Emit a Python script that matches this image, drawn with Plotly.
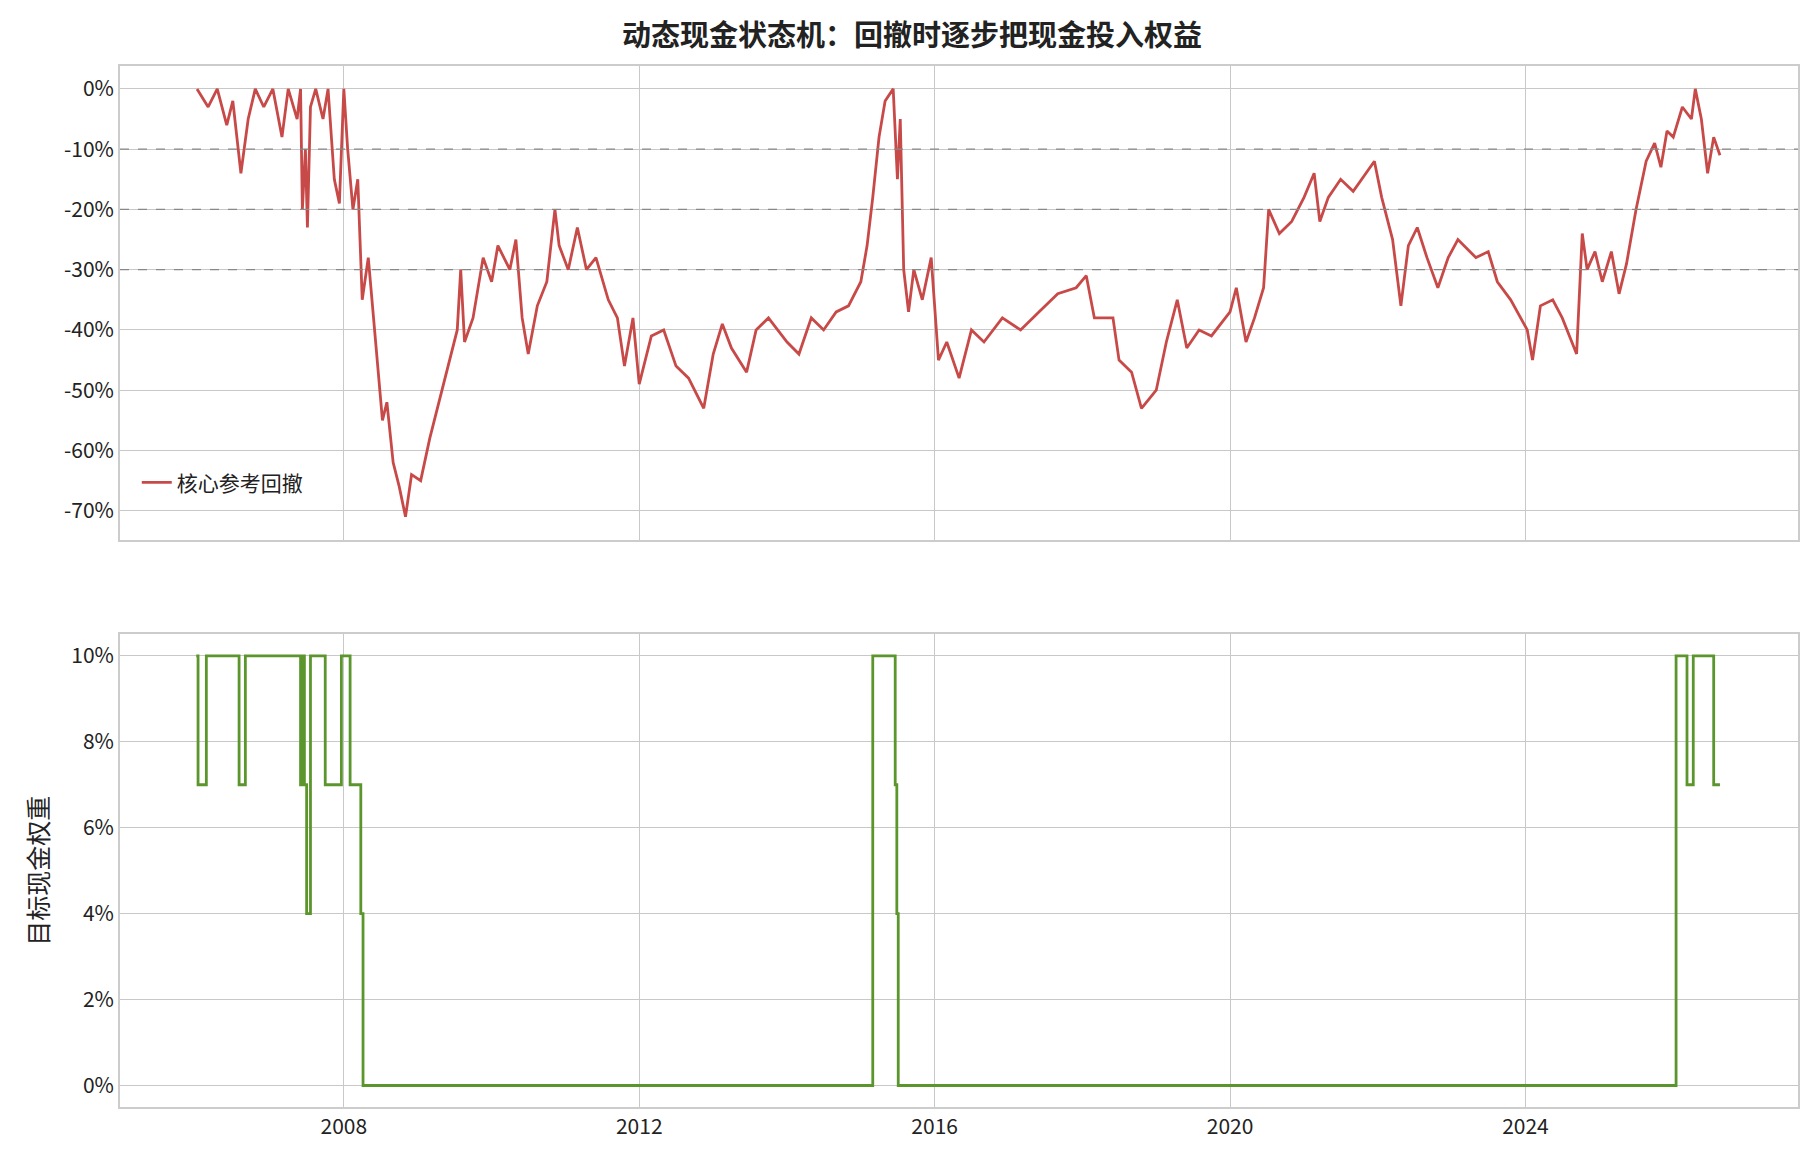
import plotly.graph_objects as go
from plotly.subplots import make_subplots

# 核心参考回撤 (%)
dd_dates = ["2006-01-05","2006-03-01","2006-04-15","2006-06-01","2006-07-01","2006-08-10","2006-09-15","2006-10-20","2006-12-01",
    "2007-01-15","2007-03-01","2007-04-01","2007-05-15","2007-06-01","2007-06-10","2007-06-25","2007-07-05","2007-07-20","2007-08-15",
    "2007-09-20","2007-10-15","2007-11-15","2007-12-10","2008-01-01","2008-01-20","2008-02-15","2008-03-10","2008-04-01","2008-05-01",
    "2008-06-01","2008-06-20","2008-07-10","2008-08-01","2008-09-01","2008-10-01","2008-11-01","2008-12-01","2009-01-15","2009-03-01",
    "2009-04-15","2009-06-01","2009-07-15","2009-08-01","2009-08-20","2009-10-01","2009-11-20","2010-01-01","2010-02-01","2010-04-01",
    "2010-05-01","2010-06-01","2010-07-01","2010-08-15","2010-10-01","2010-11-10","2010-12-01","2011-01-15","2011-03-01","2011-04-15",
    "2011-06-01","2011-08-01","2011-09-15","2011-10-20","2011-12-01","2012-01-01","2012-03-01","2012-05-01","2012-07-01","2012-09-01",
    "2012-11-15","2013-01-01","2013-02-15","2013-04-01","2013-06-15","2013-08-01","2013-10-01","2014-01-01","2014-03-01","2014-05-01",
    "2014-07-01","2014-09-01","2014-11-01","2015-01-01","2015-02-01","2015-03-01","2015-04-01","2015-05-01","2015-06-10","2015-07-01",
    "2015-07-15","2015-08-01","2015-08-25","2015-09-20","2015-11-01","2015-12-15","2016-01-20","2016-03-01","2016-05-01","2016-07-01",
    "2016-09-01","2016-12-01","2017-03-01","2017-06-01","2017-09-01","2017-12-01","2018-01-20","2018-03-01","2018-06-01","2018-07-01",
    "2018-09-01","2018-10-20","2019-01-01","2019-02-20","2019-04-15","2019-06-01","2019-08-01","2019-10-01","2020-01-01","2020-02-01",
    "2020-03-20","2020-05-01","2020-06-15","2020-07-10","2020-09-01","2020-11-01","2021-01-01","2021-02-20","2021-03-20","2021-05-01",
    "2021-07-01","2021-09-01","2021-11-01","2021-12-15","2022-01-20","2022-03-15","2022-04-25","2022-06-01","2022-07-15","2022-09-01",
    "2022-10-25","2022-12-15","2023-02-01","2023-05-01","2023-07-01","2023-08-15","2023-10-20","2024-01-10","2024-02-05","2024-03-15",
    "2024-05-15","2024-07-01","2024-09-10","2024-10-08","2024-11-01","2024-12-10","2025-01-15","2025-03-01","2025-04-08","2025-05-15",
    "2025-07-01","2025-08-20","2025-10-01","2025-11-01","2025-12-01","2026-01-01","2026-02-15","2026-04-01","2026-04-20","2026-05-20",
    "2026-06-20","2026-07-20","2026-08-20"]
dd_vals = [0,-3,0,-6,-2,-14,-5,0,-3,
    0,-8,0,-5,0,-20,-10,-23,-3,0,
    -5,0,-15,-19,0,-10,-20,-15,-35,-28,
    -40,-48,-55,-52,-62,-66,-71,-64,-65,-58,
    -52,-46,-40,-30,-42,-38,-28,-32,-26,-30,
    -25,-38,-44,-36,-32,-20,-26,-30,-23,-30,
    -28,-35,-38,-46,-38,-49,-41,-40,-46,-48,
    -53,-44,-39,-43,-47,-40,-38,-42,-44,-38,
    -40,-37,-36,-32,-26,-18,-8,-2,0,-15,
    -5,-30,-37,-30,-35,-28,-45,-42,-48,-40,
    -42,-38,-40,-37,-34,-33,-31,-38,-38,-45,
    -47,-53,-50,-42,-35,-43,-40,-41,-37,-33,
    -42,-38,-33,-20,-24,-22,-18,-14,-22,-18,
    -15,-17,-14,-12,-18,-25,-36,-26,-23,-28,
    -33,-28,-25,-28,-27,-32,-35,-40,-45,-36,
    -35,-38,-44,-24,-30,-27,-32,-27,-34,-29,
    -20,-12,-9,-13,-7,-8,-3,-5,0,-5,
    -14,-8,-11]

# 目标现金权重 (%), step series
cash_dates = ["2006-01-01","2006-01-10","2006-02-20","2006-08-01","2006-09-01","2007-06-01","2007-06-10","2007-06-20","2007-07-01",
    "2007-07-20","2007-10-01","2007-12-20","2008-02-01","2008-03-25","2008-04-05","2015-03-01","2015-06-20","2015-06-28","2015-07-05",
    "2026-01-15","2026-03-10","2026-04-10","2026-07-20","2026-08-20"]
cash_vals = [10,7,10,7,10,7,10,7,4,
    10,7,10,7,4,0,10,7,4,0,
    10,7,10,7,7]

red = "#c84a48"
green = "#5b962c"
grid = "#c8c8c8"

fig = make_subplots(rows=2, cols=1, shared_xaxes=True, vertical_spacing=0.09)
fig.add_trace(go.Scatter(x=dd_dates, y=dd_vals, mode="lines", name="核心参考回撤",
                         line=dict(color=red, width=2.8)), row=1, col=1)
fig.add_trace(go.Scatter(x=cash_dates, y=cash_vals, mode="lines", line_shape="hv", showlegend=False,
                         line=dict(color=green, width=2.8)), row=2, col=1)
for lvl in [-10, -20, -30]:
    fig.add_hline(y=lvl, line=dict(color="#888888", width=1.2, dash="dash"), row=1, col=1)

axis_style = dict(showgrid=True, gridcolor=grid, gridwidth=1.2, showline=True, mirror=True,
                  linecolor="#cccccc", linewidth=1.8, zeroline=False, ticks="")
fig.update_xaxes(range=["2004-12-20", "2027-09-10"], tickvals=["2008-01-01","2012-01-01","2016-01-01","2020-01-01","2024-01-01"],
                 ticktext=["2008","2012","2016","2020","2024"], **axis_style)
fig.update_yaxes(axis_style)
fig.update_yaxes(range=[-74.8, 3.8], tickvals=[0,-10,-20,-30,-40,-50,-60,-70],
                 ticktext=["0%","-10%","-20%","-30%","-40%","-50%","-60%","-70%"], row=1, col=1)
fig.update_yaxes(range=[-0.5, 10.5], tickvals=[0,2,4,6,8,10],
                 ticktext=["0%","2%","4%","6%","8%","10%"], title_text="目标现金权重", row=2, col=1)
fig.update_layout(
    width=1808, height=1152,
    margin=dict(l=112, r=18, t=58, b=53),
    plot_bgcolor="white", paper_bgcolor="white",
    font=dict(family="Noto Sans CJK SC", size=21, color="#222222"),
    title=dict(text="<b>动态现金状态机：回撤时逐步把现金投入权益</b>", x=0.5, xanchor="center", y=0.985, font=dict(size=29)),
    legend=dict(x=0.01, y=0.58, xanchor="left", yanchor="bottom", bgcolor="rgba(255,255,255,0)", font=dict(size=21)),
)
fig.layout.yaxis.domain = [0.545, 1.0]
fig.layout.yaxis2.domain = [0.0, 0.454]
fig.write_html("out.html")
